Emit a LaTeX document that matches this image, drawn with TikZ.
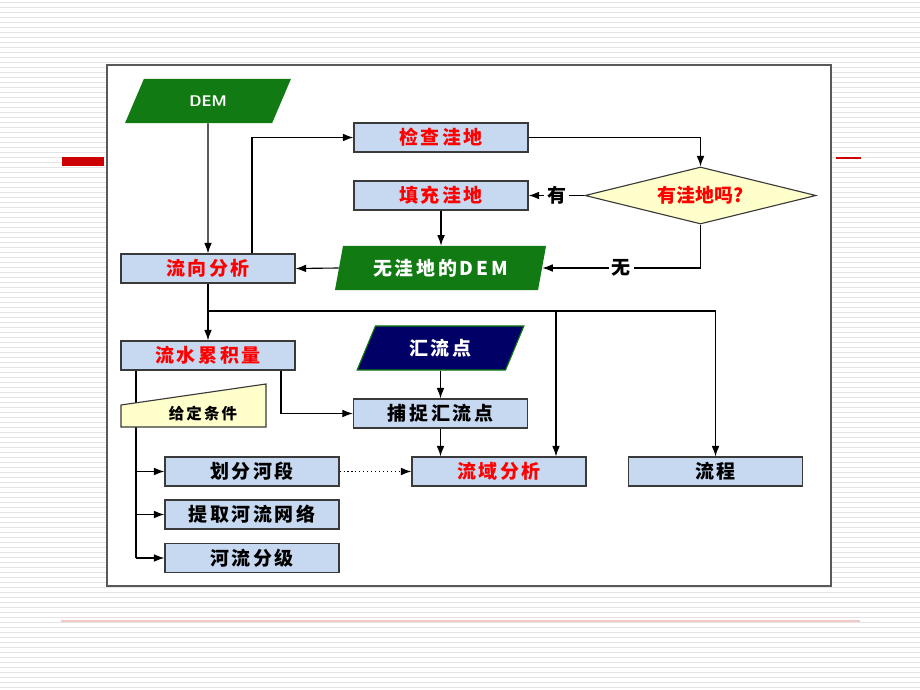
\documentclass[tikz,border=0pt]{standalone}
\usepackage{fontspec}
\newfontfamily\cjk{Noto Sans CJK SC}
\newfontfamily\cjkl{Noto Sans CJK SC}[LetterSpace=14]
\usetikzlibrary{shapes.geometric,arrows.meta,calc}
\definecolor{boitebleu}{HTML}{C6D9F1}
\definecolor{vertdem}{HTML}{127A12}
\definecolor{bleunuit}{HTML}{000066}
\definecolor{jaunepale}{HTML}{FFFFCC}
\definecolor{bordgris}{HTML}{3A3A3A}
\definecolor{rayure}{HTML}{E4E4E4}
\definecolor{rougebarre}{HTML}{CC0000}
\definecolor{rose}{HTML}{F2C8C8}
\newcommand{\boitefont}{\cjkl\bfseries\fontsize{13.5}{15}\selectfont}
\newcommand{\labelfont}{\cjk\bfseries\fontsize{13.5}{15}\selectfont}
\tikzset{%
  boite/.style={draw=bordgris, line width=0.8pt, fill=boitebleu,%
    minimum width=4.35cm, minimum height=0.725cm, inner sep=0pt,%
    font=\boitefont},%
  para/.style={trapezium, trapezium stretches=true, minimum height=1.1cm,%
    inner sep=0pt, text=white, font=\boitefont},%
  losange/.style={diamond, aspect=4, draw=bordgris, line width=0.8pt, fill=jaunepale,%
    minimum width=5.775cm, minimum height=1.425cm, inner sep=0pt,%
    text=red, font=\labelfont},%
  fleche/.style={draw=black, line width=0.8pt,%
    -{Latex[length=7.5pt,width=5.5pt]}},%
  lien/.style={draw=black, line width=0.8pt},%
  etiq/.style={fill=white, inner sep=2pt, font=\labelfont},%
}
\begin{document}
\begin{tikzpicture}[x=0.025cm, y=-0.025cm]
  % Fond
  \useasboundingbox (0,0) rectangle (920,690);%
  \fill[white] (0,0) rectangle (920,690);%
  \foreach \y in {2,7,...,690} \draw[rayure, line width=0.6pt] (0,\y) -- (920,\y);%
  \fill[rougebarre] (62,157) rectangle (104,166);%
  \draw[rougebarre, line width=0.8pt] (836,158) -- (861,158);%
  \draw[rose, line width=1.6pt] (61,621) -- (860,621);%
  \draw[gray!70!black, line width=1pt, fill=white] (107,65) rectangle (831,586);%

  % Coordonnées
  \coordinate (xa) at (252,0);%
  \coordinate (xb) at (556,0);%
  \coordinate (xc) at (281,0);%
  \coordinate (xd) at (136,0);%
  \coordinate (bif) at (208,311);%

  % Formes
  \node[para, fill=vertdem, minimum width=4.15cm, trapezium left angle=63,%
    trapezium right angle=117, font=\sffamily\bfseries\fontsize{11}{13}\selectfont] (dem) at (208,101) {DEM};%
  \node[boite, text=red] (verif) at (441,137.5) {检查洼地};%
  \node[boite, text=red] (rempl) at (441,195.5) {填充洼地};%
  \node[losange] (test) at (700.5,195.5) {有洼地吗?};%
  \node[para, fill=vertdem, minimum width=5.275cm, trapezium left angle=73,%
    trapezium right angle=107] (demsans) at (440.5,268) {无洼地的DEM};%
  \node[boite, text=red] (dir) at (208,268.5) {流向分析};%
  \node[boite, text=red] (accu) at (208,355.5) {流水累积量};%
  \node[para, fill=bleunuit, draw=vertdem, line width=0.8pt, minimum width=4.175cm,%
    trapezium left angle=64, trapezium right angle=116] (exut) at (440.5,348) {汇流点};%
  \node[boite] (capt) at (440.5,413.5) {捕捉汇流点};%
  \node[boite, text=red] (bassin) at (499,471.5) {流域分析};%
  \node[boite] (flux) at (715.5,471.5) {流程};%
  \node[boite] (tronc) at (252,471.5) {划分河段};%
  \node[boite] (reseau) at (252,514.5) {提取河流网络};%
  \node[boite] (ordre) at (252,558) {河流分级};%

  % Liaisons
  \draw[fleche] (dem.south) -- (dir.north);%
  \draw[fleche] (xa |- dir.north) |- (verif.west);%
  \draw[fleche] (verif.east) -| (test.north);%
  \draw[fleche] (test.west) -- node[etiq] {有} (rempl.east);%
  \draw[fleche] (rempl.south) -- (rempl.south |- demsans.north);%
  \draw[fleche] (test.south) |- node[etiq, pos=0.75] {无} (demsans.east);%
  \draw[fleche] (demsans.west) -- (dir.east);%
  \draw[fleche] (dir.south) -- (accu.north);%
  \draw[fleche] (bif) -| (xb |- bassin.north);%
  \draw[fleche] (bif) -| (flux.north);%
  \draw[fleche] (xc |- accu.south) |- (capt.west);%
  \draw[fleche] (capt.north |- exut.south) -- (capt.north);%
  \draw[fleche] (capt.south) -- (capt.south |- bassin.north);%
  \draw[fleche, dotted] (tronc.east) -- (bassin.west);%
  \draw[lien] (xd |- accu.south) -- (xd |- ordre.west);%
  \foreach \n in {tronc,reseau,ordre}%
    \draw[fleche] (xd |- \n.west) -- (\n.west);%

  % Condition
  \draw[draw=bordgris, line width=0.8pt, fill=jaunepale] (121,427) -- (266,427) -- (266,384) -- (121,405) -- cycle;%
  \node[font=\cjkl\bfseries\fontsize{11}{13}\selectfont] (cond) at (203,414) {给定条件};%
\end{tikzpicture}
\end{document}
